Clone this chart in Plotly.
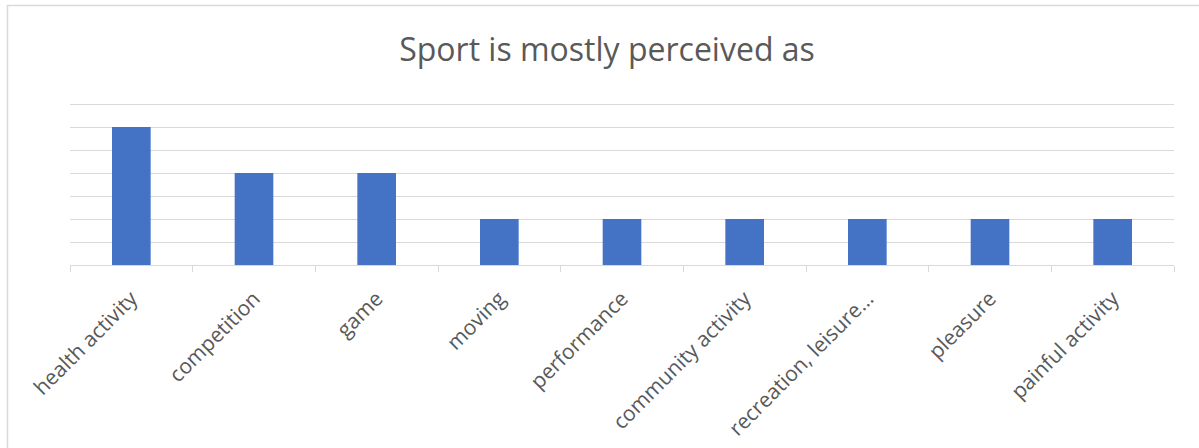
import plotly.graph_objects as go

categories = ["health activity", "competition", "game", "moving", "performance",
              "community activity", "recreation, leisure…", "pleasure", "painful activity"]
values = [6, 4, 4, 2, 2, 2, 2, 2, 2]
title_text = "Sport is mostly perceived as"

L, R, T, B = 70, 25, 100, 183
W, H = 1199, 448
pw, ph = W - L - R, H - T - B
unit_px = 23.0
ymax = ph / unit_px

fig = go.Figure(go.Bar(x=categories, y=values, marker_color="#4472C4",
                       marker_line_width=0))

fig.update_layout(
    width=W, height=H,
    margin=dict(l=L, r=R, t=T, b=B, pad=0, autoexpand=False),
    paper_bgcolor="white", plot_bgcolor="white",
    bargap=0.685,
    showlegend=False,
    title=dict(text=title_text, x=607 / W, xanchor="center", y=1 - 50 / H,
               yanchor="middle", yref="container",
               font=dict(family="Open Sans", size=32, color="#595959")),
    font=dict(family="Open Sans", color="#595959"),
)
fig.update_xaxes(
    type="category", tickangle=-45, tickson="boundaries", ticks="outside",
    ticklen=6, tickcolor="#d9d9d9", showline=True, linecolor="#d9d9d9",
    linewidth=1, showgrid=False, tickfont=dict(size=21, color="#595959"),
    ticklabelstandoff=12, automargin=False,
)
fig.update_yaxes(
    range=[0, ymax], tickmode="array", tickvals=list(range(0, 8)),
    showticklabels=False, showgrid=True, automargin=False,
    gridcolor="#d9d9d9", gridwidth=1, zeroline=False, showline=False,
)
# chart border
fig.add_shape(type="rect", xref="paper", yref="paper",
              x0=(7.5 - L) / pw, x1=1.05, y0=-1.5, y1=(H - B - 5.5) / ph,
              line=dict(color="#d9d9d9", width=1.5), fillcolor="rgba(0,0,0,0)",
              layer="below")

fig.write_html("out.html", config={"displayModeBar": False},
               post_script="document.body.style.margin='0';document.body.style.overflow='hidden';")
